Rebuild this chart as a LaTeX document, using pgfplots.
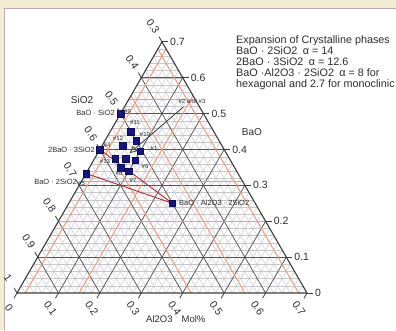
\documentclass[border=0pt]{standalone}
\usepackage{pgfplots}
\pgfplotsset{compat=1.18}
\usepackage{pgfplotstable}
\usepackage{fontspec}
\setmainfont{Liberation Sans}
\usetikzlibrary{arrows.meta}
\definecolor{navy}{RGB}{22,22,125}
\definecolor{tie}{RGB}{175,45,45}
\definecolor{orng}{RGB}{236,160,130}
\definecolor{majg}{RGB}{85,85,85}
\definecolor{ming}{RGB}{198,198,206}
\definecolor{edgec}{RGB}{60,60,60}
\definecolor{beige}{RGB}{242,236,210}
\definecolor{framec}{RGB}{200,168,176}
\definecolor{txt}{RGB}{45,45,45}

% ternary data: A = Al2O3, B = BaO (mole fractions); SiO2 = 1-A-B
\pgfplotstableread{
A B
0 0.5
0.05 0.45
0.075 0.425
0.05 0.41
0 0.4
0.10 0.395
0.05 0.375
0.075 0.375
0.10 0.37
0.075 0.35
0.10 0.34
0 0.3333
0.25 0.25
}\pts
\pgfplotstableread{
A B
0 0.3333
0.25 0.25
0 0.4
}\ties
\pgfplotstableread{
A B
0.142 0.518
0.077 0.39
}\arrowpts

\begin{document}
\begin{tikzpicture}[x=1pt,y=1pt]
\useasboundingbox (0,0) rectangle (396,330);
\fill[beige] (0,0) rectangle (396,330);
\fill[white] (4,0) rectangle (396,322);
\draw[framec,line width=1pt] (4.5,0) -- (4.5,321.5) -- (396,321.5);
\begin{axis}[
  at={(17pt,37pt)}, anchor=origin,
  x=414.3pt, y=414.3pt,
  xmin=0, xmax=0.7, ymin=0, ymax=0.6062,
  enlargelimits=false, hide axis, clip=false,
]
% minor grid
\pgfplotsinvokeforeach{0.02,0.04,...,0.681}{
  \draw[ming,line width=0.45pt] ({#1/2},{0.8660254*#1}) -- ({0.7-#1/2},{0.8660254*#1});
  \draw[ming,line width=0.45pt] (#1,0) -- ({#1+(0.7-#1)/2},{0.8660254*(0.7-#1)});
  \draw[ming,line width=0.45pt] (#1,0) -- ({#1/2},{0.8660254*#1});
}
% major grid
\pgfplotsinvokeforeach{0.1,0.2,0.3,0.4,0.5,0.6}{
  \draw[majg,line width=0.7pt] ({#1/2},{0.8660254*#1}) -- ({0.7-#1/2},{0.8660254*#1});
  \draw[majg,line width=0.7pt] (#1,0) -- ({#1+(0.7-#1)/2},{0.8660254*(0.7-#1)});
  \draw[majg,line width=0.7pt] (#1,0) -- ({#1/2},{0.8660254*#1});
}
% orange overlay lines
\pgfplotsinvokeforeach{0.2,0.31,0.54}{
  \draw[orng,line width=1pt] ({#1/2},{0.8660254*#1}) -- ({0.7-#1/2},{0.8660254*#1});
}
\pgfplotsinvokeforeach{0.02,0.15}{
  \draw[orng,line width=1pt] (#1,0) -- ({#1+(0.7-#1)/2},{0.8660254*(0.7-#1)});
}
\pgfplotsinvokeforeach{0.42,0.55,0.68}{
  \draw[orng,line width=1pt] (#1,0) -- ({#1/2},{0.8660254*#1});
}
% triangle edges
\draw[edgec,line width=1.1pt] (0,0) -- (0.7,0) -- (0.35,0.6062) -- cycle;
% tie lines
\addplot[tie,line width=0.9pt] table[x expr=\thisrow{A}+0.5*\thisrow{B}, y expr=0.8660254*\thisrow{B}] {\ties};
% arrow for #2 and #3
\addplot[edgec,line width=0.8pt,-{Triangle[open,length=7pt,width=7pt]}] table[x expr=\thisrow{A}+0.5*\thisrow{B}, y expr=0.8660254*\thisrow{B}] {\arrowpts};
% samples
\addplot[only marks, mark=square*, mark size=3.3pt, mark options={fill=navy,draw=navy!70!black}] table[x expr=\thisrow{A}+0.5*\thisrow{B}, y expr=0.8660254*\thisrow{B}] {\pts};
\end{axis}

% ticks and tick labels (1pt = 1px of the picture)
\begin{scope}[txt]
\foreach \v in {0,0.1,0.2,0.3,0.4,0.5,0.6,0.7}{
  % right (BaO)
  \draw[edgec,line width=0.8pt] ({307-207.15*\v},{37+358.8*\v}) -- ++(6,0);
  \node[anchor=west,inner sep=0pt,font=\fontsize{10.5}{12}\selectfont] at ({315-207.15*\v},{37+358.8*\v}) {\v};
  % bottom (Al2O3)
  \draw[edgec,line width=0.8pt] ({17+414.3*\v},37) -- ++(-3,-5.2);
  \node[rotate=-55,inner sep=0pt,font=\fontsize{10.5}{12}\selectfont] at ({17+414.3*\v-8},{37-15}) {\v};
  % left (SiO2)
  \draw[edgec,line width=0.8pt] ({17+207.15*\v},{37+358.8*\v}) -- ++(-3,5.2);
}
\foreach \v/\l in {0/1,0.1/0.9,0.2/0.8,0.3/0.7,0.4/0.6,0.5/0.5,0.6/0.4,0.7/0.3}{
  \node[rotate=-55,inner sep=0pt,font=\fontsize{10.5}{12}\selectfont] at ({17+207.15*\v-9},{37+358.8*\v+15.6}) {\l};
}
% axis names
\node[font=\fontsize{10}{12}\selectfont] at (82,230) {SiO2};
\node[font=\fontsize{10}{12}\selectfont] at (252,198) {BaO};
\node[anchor=west,inner sep=0pt,font=\fontsize{9.5}{12}\selectfont] at (146,11) {Al2O3\hspace{9pt}Mol\%};
% compound labels
\node[anchor=east,inner sep=0pt,font=\fontsize{7.5}{9}\selectfont] at (115,217) {BaO · SiO2};
\node[anchor=east,inner sep=0pt,font=\fontsize{7.5}{9}\selectfont] at (95,180) {2BaO · 3SiO2};
\node[anchor=east,inner sep=0pt,font=\fontsize{7.5}{9}\selectfont] at (77,148) {BaO · 2SiO2};
\node[anchor=west,inner sep=0pt,font=\fontsize{7.5}{9}\selectfont] at (179,127) {BaO · Al2O3 · 2SiO2};
% sample numbers
\begin{scope}[every node/.style={inner sep=0pt,font=\fontsize{6}{7}\selectfont}]
\node[anchor=west] at (124,219) {\#9};
\node at (135,208) {\#11};
\node at (145,196) {\#10};
\node at (118,192) {\#12};
\node at (107,185) {\#4};
\node at (154,182) {\#1};
\node at (105,169) {\#13};
\node at (145,164) {\#6};
\node at (119,157) {\#8};
\node at (133,150) {\#7};
\node[anchor=west] at (78,146.5) {\#5};
\node at (192,229) {\#2 and \#3};
\end{scope}
% legend text
\node[anchor=north west,inner sep=0pt,align=left,font=\fontsize{10.8}{11.2}\selectfont] at (236,295)
{Expansion of Crystalline phases\\
BaO · 2SiO2\enspace α = 14\\
2BaO · 3SiO2\enspace α = 12.6\\
BaO ·Al2O3 · 2SiO2\enspace α = 8 for\\
hexagonal and 2.7 for monoclinic};
\end{scope}
\end{tikzpicture}
\end{document}
